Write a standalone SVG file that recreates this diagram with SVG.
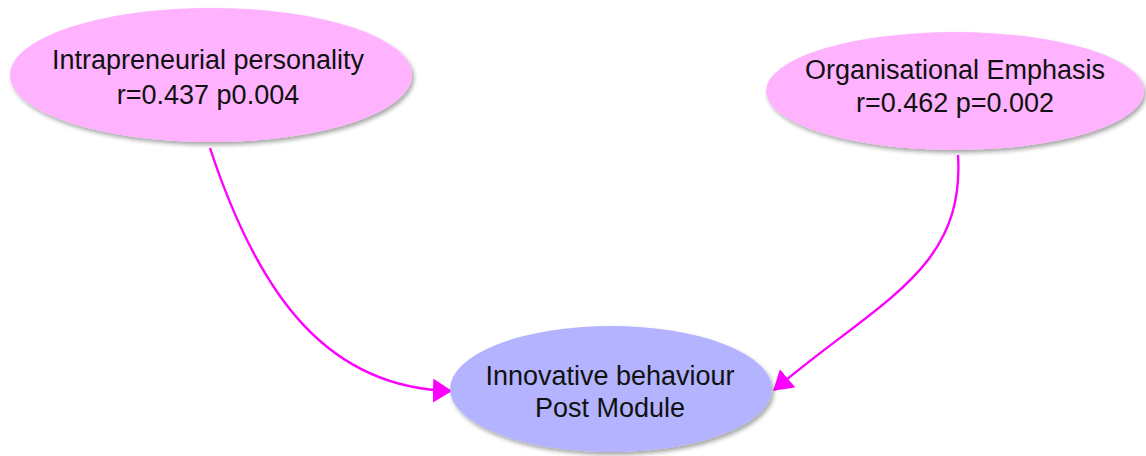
<svg xmlns="http://www.w3.org/2000/svg" width="1146" height="456" viewBox="0 0 1146 456">
<style>
.t{font-family:"Liberation Sans",Arial,sans-serif;font-size:27px;fill:#111;text-anchor:middle}
.pink{fill:#ffb3ff}
.blue{fill:#b3b3ff}
.c{fill:none;stroke:#ff00ff;stroke-width:2.4}
</style>
<defs>
<filter id="sh" x="-10%" y="-10%" width="125%" height="130%">
<feGaussianBlur in="SourceAlpha" stdDeviation="2"/>
<feOffset dx="2" dy="3"/>
<feComponentTransfer><feFuncA type="linear" slope="0.35"/></feComponentTransfer>
<feMerge><feMergeNode/><feMergeNode in="SourceGraphic"/></feMerge>
</filter>
<marker id="ah" markerWidth="19" markerHeight="24" refX="18" refY="12" orient="auto" markerUnits="userSpaceOnUse" viewBox="0 0 19 24">
<path d="M0,0 L19,12 L0,24 Z" fill="#ff00ff"/>
</marker>
</defs>
<g id="connectors">
<path class="c" d="M210,148 C260,300 330,388 451,391" marker-end="url(#ah)"/>
<path class="c" d="M958,155 C965,270 880,300 774,390" marker-end="url(#ah)"/>
</g>
<g id="intrapreneurial">
<ellipse class="pink" cx="211" cy="75" rx="201" ry="67" filter="url(#sh)"/>
<text class="t" x="208" y="69">Intrapreneurial personality</text>
<text class="t" x="208" y="104">r=0.437 p0.004</text>
</g>
<g id="organisational">
<ellipse class="pink" cx="955" cy="91" rx="189" ry="59" filter="url(#sh)"/>
<text class="t" x="955" y="79">Organisational Emphasis</text>
<text class="t" x="955" y="112">r=0.462 p=0.002</text>
</g>
<g id="innovative">
<ellipse class="blue" cx="611" cy="389" rx="161" ry="63" filter="url(#sh)"/>
<text class="t" x="610" y="385">Innovative behaviour</text>
<text class="t" x="610" y="417">Post Module</text>
</g>
</svg>
